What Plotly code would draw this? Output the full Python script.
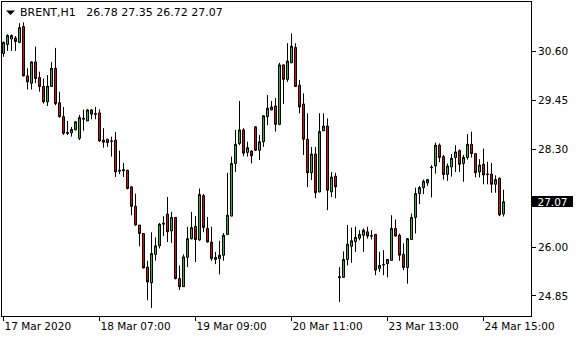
import plotly.graph_objects as go

# ---------------- data ----------------
symbol = "BRENT,H1"

open_ = [30.56, 30.77, 30.90, 30.92, 30.82, 31.19, 30.03, 29.86, 30.36, 29.99,
         29.78, 29.42, 29.78, 30.21, 29.40, 29.07, 28.70, 28.69, 28.76, 28.56,
         29.01, 28.97, 29.23, 29.13, 29.16, 28.52, 28.54, 28.49, 28.52, 27.81,
         27.80, 27.81, 27.42, 26.96, 26.52, 26.32, 25.53, 25.16, 25.83, 26.03,
         26.54, 26.78, 26.38, 26.70, 25.26, 25.07, 25.76, 26.20, 26.49, 26.17,
         27.21, 26.44, 26.12, 25.71, 25.73, 25.81, 26.30, 26.73, 27.97, 28.44,
         28.76, 28.23, 28.26, 28.83, 28.28, 28.48, 29.07, 29.23, 29.32, 28.89,
         30.29, 29.95, 30.34, 30.70, 29.81, 29.37, 28.54, 27.75, 28.19, 27.30,
         28.74, 28.85, 27.30, 27.67, 25.28, 25.29, 25.71, 26.02, 26.13, 26.21,
         26.28, 26.36, 26.27, 26.30, 25.50, 25.58, 25.61, 25.69, 26.44, 26.28,
         25.83, 25.52, 26.18, 26.70, 27.26, 27.40, 27.51, 27.87, 27.91, 28.40,
         28.13, 27.71, 27.89, 28.11, 28.27, 27.97, 28.11, 28.42, 28.20, 27.77,
         27.95, 27.71, 27.72, 27.48, 27.62, 26.78]

high = [30.84, 31.01, 31.01, 30.97, 31.27, 31.29, 30.21, 30.37, 30.72, 30.13,
        29.97, 30.05, 30.36, 30.69, 29.66, 29.30, 28.97, 28.83, 28.97, 29.11,
        29.24, 29.25, 29.25, 29.30, 29.24, 28.80, 28.54, 28.60, 28.71, 28.27,
        27.98, 27.82, 27.43, 27.26, 26.52, 26.32, 25.68, 26.35, 26.23, 26.57,
        26.73, 27.18, 26.83, 26.70, 25.57, 25.83, 26.48, 26.83, 26.73, 27.38,
        27.25, 26.71, 26.48, 25.89, 26.15, 26.33, 27.75, 28.13, 28.76, 29.44,
        28.80, 28.48, 28.28, 28.85, 28.64, 29.11, 29.58, 29.44, 29.51, 30.34,
        30.30, 30.80, 31.03, 30.80, 29.93, 29.62, 29.15, 28.36, 28.36, 29.15,
        29.15, 29.03, 27.77, 27.75, 25.53, 25.90, 26.52, 26.46, 26.48, 26.40,
        26.44, 26.48, 26.40, 26.31, 25.89, 25.93, 25.72, 26.75, 26.65, 26.32,
        26.09, 26.21, 26.79, 27.40, 27.44, 27.59, 27.60, 27.93, 28.46, 28.44,
        28.17, 27.97, 28.19, 28.40, 28.30, 28.17, 28.66, 28.72, 28.21, 28.07,
        28.32, 28.01, 27.98, 27.69, 27.64, 27.35]

low = [30.48, 30.62, 30.62, 30.62, 30.80, 30.02, 29.71, 29.71, 29.86, 29.66,
       29.38, 29.32, 29.77, 29.34, 29.05, 28.64, 28.64, 28.60, 28.75, 28.52,
       28.74, 28.97, 29.01, 29.01, 28.48, 28.34, 28.36, 28.13, 27.65, 27.72,
       27.65, 27.36, 26.75, 26.50, 26.02, 25.50, 24.75, 24.57, 25.68, 25.97,
       26.26, 26.12, 26.10, 25.24, 24.99, 25.06, 25.53, 26.18, 25.65, 26.15,
       26.35, 26.11, 25.68, 25.60, 25.36, 25.68, 26.28, 26.73, 27.77, 28.40,
       28.14, 28.13, 27.97, 28.26, 28.05, 28.36, 28.87, 29.22, 28.72, 28.87,
       29.37, 29.89, 30.33, 29.77, 29.15, 28.17, 27.41, 27.58, 27.15, 27.29,
       28.73, 26.87, 27.18, 27.15, 24.71, 25.28, 25.57, 25.63, 25.89, 26.16,
       25.89, 26.20, 26.18, 25.34, 25.42, 25.34, 25.29, 25.68, 26.25, 25.68,
       25.46, 25.14, 26.17, 26.32, 27.01, 27.25, 27.44, 27.17, 27.73, 28.00,
       27.59, 27.56, 27.66, 27.77, 27.77, 27.54, 28.06, 28.11, 27.64, 27.64,
       27.48, 27.48, 27.28, 27.28, 26.73, 26.72]

close = [30.82, 30.98, 30.98, 30.84, 31.17, 30.03, 29.89, 30.36, 29.97, 29.78,
         29.42, 29.79, 30.21, 29.38, 29.07, 28.68, 28.68, 28.77, 28.95, 29.05,
         29.03, 29.23, 29.13, 29.14, 28.50, 28.47, 28.46, 28.50, 27.77, 27.79,
         27.82, 27.38, 26.96, 26.52, 26.32, 25.51, 25.18, 25.85, 26.03, 26.54,
         26.56, 26.36, 26.70, 25.26, 25.07, 25.77, 26.20, 26.46, 26.18, 27.24,
         26.46, 26.12, 25.73, 25.76, 25.81, 26.28, 26.75, 27.97, 28.42, 28.76,
         28.21, 28.34, 28.15, 28.28, 28.48, 29.09, 29.27, 29.30, 28.89, 30.29,
         29.95, 30.38, 30.73, 29.78, 29.30, 28.54, 27.75, 28.19, 27.28, 28.72,
         28.85, 27.34, 27.65, 27.42, 25.30, 25.71, 26.07, 26.15, 26.23, 26.30,
         26.40, 26.26, 26.26, 25.46, 25.57, 25.59, 25.71, 26.44, 26.26, 25.81,
         25.52, 26.20, 26.70, 27.26, 27.40, 27.55, 27.59, 27.88, 28.40, 28.11,
         27.71, 27.91, 28.09, 28.24, 27.95, 28.11, 28.42, 28.20, 27.75, 27.93,
         27.70, 27.72, 27.48, 27.59, 26.76, 27.07]

bar_index = list(range(len(open_)))
time_tick_index = [0, 24, 48, 72, 96, 120]
time_tick_labels = ["17 Mar 2020", "18 Mar 07:00", "19 Mar 09:00",
                    "20 Mar 11:00", "23 Mar 13:00", "24 Mar 15:00"]
price_ticks = [24.85, 26.00, 28.30, 29.45, 30.60]
last_price = close[-1]

# ---------------- figure ----------------
W, H = 580, 340
ML, MR, MT, MB = 2, 49, 2, 24
PW, PH = W - ML - MR, H - MT - MB


def px_x(px):
    return (px - ML) / PW


def px_y(py):
    return 1 - (py - MT) / PH


FONT = "DejaVu Sans"
GREEN = "#33b233"
RED = "#d60c0c"

fig = go.Figure(go.Candlestick(
    x=bar_index, open=open_, high=high, low=low, close=close,
    increasing=dict(fillcolor=GREEN, line=dict(color="black", width=1)),
    decreasing=dict(fillcolor=RED, line=dict(color="black", width=1)),
    whiskerwidth=0, hoverinfo="skip",
))

fig.update_layout(
    width=W, height=H,
    margin=dict(l=ML, r=MR, t=MT, b=MB, pad=0),
    paper_bgcolor="white", plot_bgcolor="white",
    showlegend=False, hovermode=False,
    boxgap=0.5, boxgroupgap=0.0,
    font=dict(family=FONT, size=10.5, color="black"),
)

# 4 px per bar, bar centres on pixel centres (3.5 + 4*i)
fig.update_xaxes(
    range=[-0.375, 131.875], automargin=False,
    tickvals=time_tick_index, ticktext=time_tick_labels,
    ticks="outside", ticklen=4, tickwidth=1, tickcolor="black",
    ticklabelposition="outside right",
    showline=True, linecolor="black", linewidth=1, mirror=True,
    showgrid=False, zeroline=False,
    rangeslider=dict(visible=False),
    tickfont=dict(family=FONT, size=10.5, color="black"),
)

fig.update_yaxes(
    side="right", range=[24.379, 31.770], automargin=False,
    tickvals=price_ticks, tickformat=".2f",
    ticks="outside", ticklen=4, tickwidth=1, tickcolor="black",
    showline=True, linecolor="black", linewidth=1, mirror=True,
    showgrid=False, zeroline=False,
    tickfont=dict(family=FONT, size=10.5, color="black"),
)

# header: symbol + OHLC of the last bar
header = (f"{symbol}\u00a0\u00a0\u00a0{open_[-1]:.2f} {high[-1]:.2f} "
          f"{low[-1]:.2f} {close[-1]:.2f}")
fig.add_annotation(
    xref="paper", yref="paper", x=px_x(18), y=px_y(12.5),
    xanchor="left", yanchor="middle", showarrow=False,
    text=header, font=dict(family=FONT, size=11, color="black"),
)

# small down triangle before the symbol
fig.add_shape(
    type="path", xref="paper", yref="paper",
    path=(f"M {px_x(6)} {px_y(10.5)} L {px_x(15)} {px_y(10.5)} "
          f"L {px_x(10.5)} {px_y(15)} Z"),
    fillcolor="black", line=dict(color="black", width=0),
)

# current price label on the price scale
fig.add_annotation(
    xref="paper", yref="y", x=1, y=last_price,
    xanchor="left", yanchor="middle", xshift=1,
    showarrow=False, text=f"{last_price:.2f}",
    bgcolor="black", borderwidth=0, borderpad=1,
    width=39, height=9, align="center",
    font=dict(family=FONT, size=10.5, color="white"),
)

fig.write_html("out.html")
